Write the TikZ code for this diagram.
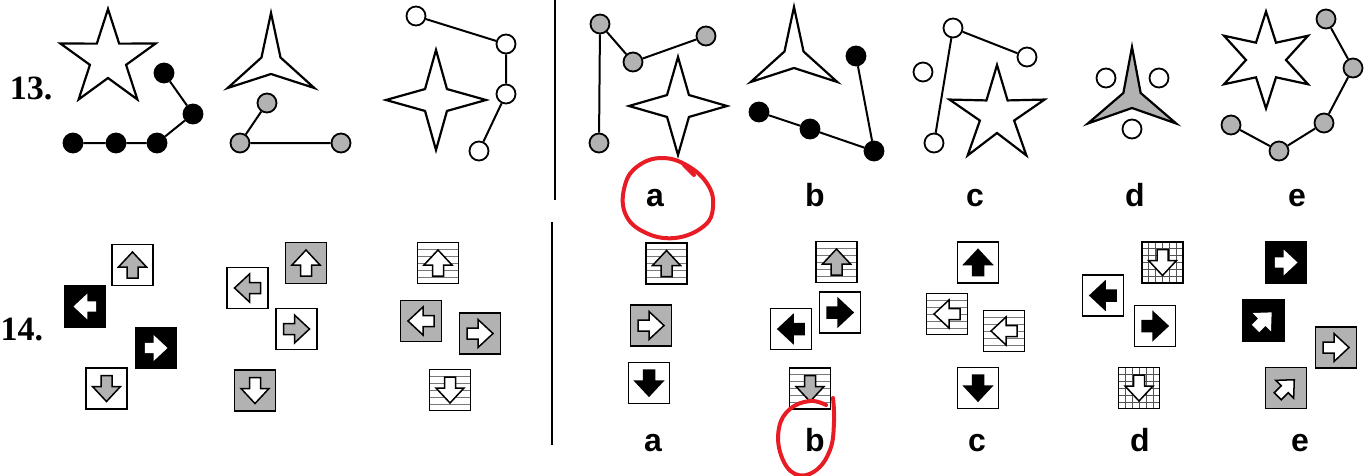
\documentclass[tikz,border=0pt]{standalone}
\usepackage{fontspec}
\setmainfont{Liberation Serif}
\newfontfamily\lettfont{Liberation Sans}
\usetikzlibrary{positioning}
\definecolor{qgray}{RGB}{178,178,178}
\definecolor{qhatch}{RGB}{120,120,120}
\definecolor{qred}{RGB}{232,28,36}

% star with #4 points at (#2,#3), outer radius #5, inner radius #6
\newcommand{\starfig}[6][white]{%
  \pgfmathtruncatemacro\nn{2*#4-1}%
  \filldraw[starline, fill=#1, shift={(#2,#3)}]
    plot[samples at={0,...,\nn}] ({-90+180*\x/#4}:{ifthenelse(mod(\x,2)==0,#5,#6)}) -- cycle;}

\begin{document}
\begin{tikzpicture}[x=1pt, y=-1pt,
  num/.style={font=\fontsize{34}{34}\selectfont\bfseries, inner sep=0pt},
  lett/.style={font=\lettfont\fontsize{32}{32}\selectfont\bfseries, anchor=base, inner sep=0pt},
  starline/.style={draw=black, line width=2.2pt, line join=miter},
  link/.style={line width=2pt},
  dot/.style={circle, draw, line width=1.8pt, minimum size=19pt, inner sep=0pt},
  kdot/.style={dot, fill=black},
  gdot/.style={dot, fill=qgray},
  wdot/.style={dot, fill=white},
  box/.style={draw, line width=1.8pt, minimum size=41pt, inner sep=0pt, fill=white},
  gbox/.style={box, fill=qgray},
  kbox/.style={box, fill=black},
  hbox/.style={box, path picture={\foreach \d in {-14,-7,...,14}
      \draw[qhatch, line width=1pt] ([yshift=\d]path picture bounding box.west)
        -- ([yshift=\d]path picture bounding box.east);}},
  gridbox/.style={box, path picture={\foreach \d in {-14,-7,...,14} {
      \draw[qhatch!70!black, line width=1pt] ([yshift=\d]path picture bounding box.west)
        -- ([yshift=\d]path picture bounding box.east);
      \draw[qhatch!70!black, line width=1pt] ([xshift=\d]path picture bounding box.north)
        -- ([xshift=\d]path picture bounding box.south);}}},
  divline/.style={line width=2.5pt},
  ring/.style={qred, line width=4pt, line cap=round, line join=round},
  pics/barr/.style={code={\filldraw[line width=1.5pt, line join=miter]
      (13,0) -- (-2,14) -- (-2,5.5) -- (-13,5.5) -- (-13,-5.5) -- (-2,-5.5) -- (-2,-14) -- cycle;}}]
\useasboundingbox (0,0) rectangle (1372,476);

\node[num] (q13) at (31,88) {13.};
\node[num] (q14) at (22,330) {14.};
\draw[divline] (555,0) -- (555,200);
\draw[divline] (552,222) -- (552,445);

\foreach \l/\x in {a/655, b/815, c/975, d/1135, e/1297}
  \node[lett] (top\l) at (\x,206) {\l};
\foreach \l/\x in {a/653, b/815, c/977, d/1140, e/1300}
  \node[lett] (bot\l) at (\x,451) {\l};

% row 13, question
\starfig{108}{59}{5}{50}{19}
\node[kdot] (k1) at (73,143) {};
\node[kdot] (k2) at (116,143) {};
\node[kdot] (k3) at (157,143) {};
\node[kdot] (k4) at (193,114) {};
\node[kdot] (k5) at (164,73) {};
\draw[link] (k1) -- (k2) -- (k3) -- (k4) -- (k5);

\starfig{271}{63}{3}{50}{11}
\node[gdot] (g1) at (267,103) {};
\node[gdot] (g2) at (240,143) {};
\node[gdot] (g3) at (341,143) {};
\draw[link] (g1) -- (g2) -- (g3);

\starfig{436}{100}{4}{50}{15.5}
\node[wdot] (w1) at (416,16) {};
\node[wdot] (w2) at (506,44) {};
\node[wdot] (w3) at (506,94) {};
\node[wdot] (w4) at (479,151) {};
\draw[link] (w1) -- (w2) -- (w3) -- (w4);

% row 13, answers
\starfig{678}{106}{4}{49}{15.5}
\node[gdot] (ga1) at (600,24) {};
\node[gdot] (ga2) at (633,62) {};
\node[gdot] (ga3) at (706,36) {};
\node[gdot] (ga4) at (599,143) {};
\draw[link] (ga4) -- (ga1) -- (ga2) -- (ga3);

\starfig{794}{57}{3}{50}{11}
\node[kdot] (kb1) at (856,56) {};
\node[kdot] (kb2) at (759,112) {};
\node[kdot] (kb3) at (810,129) {};
\node[kdot] (kb4) at (874,151) {};
\draw[link] (kb2) -- (kb3) -- (kb4) -- (kb1);

\starfig{997}{115}{5}{50}{18}
\node[wdot] (wc1) at (953,28) {};
\node[wdot] (wc2) at (1027,57) {};
\node[wdot] (wc3) at (923,72) {};
\node[wdot] (wc4) at (934,143) {};
\draw[link] (wc4) -- (wc1) -- (wc2);

\starfig[qgray]{1132}{98}{3}{51}{10}
\node[wdot] (wd1) at (1106,78) {};
\node[wdot] (wd2) at (1159,78) {};
\node[wdot] (wd3) at (1132,129) {};

\starfig{1266}{60}{6}{48.5}{20}
\node[gdot] (ge1) at (1326,19) {};
\node[gdot] (ge2) at (1353,68) {};
\node[gdot] (ge3) at (1324,123) {};
\node[gdot] (ge4) at (1279,151) {};
\node[gdot] (ge5) at (1231,125) {};
\draw[link] (ge1) -- (ge2) -- (ge3) -- (ge4) -- (ge5);

% row 14, question
\node[box] (f1u) at (132.5,265) {};
\pic[rotate=90, fill=qgray] at (f1u) {barr};
\node[kbox] (f1l) at (85,306.5) {};
\pic[rotate=180, scale=0.8, fill=white, draw=white] at (f1l) {barr};
\node[kbox] (f1r) at (156,348) {};
\pic[scale=0.8, fill=white, draw=white] at (f1r) {barr};
\node[box] (f1d) at (106.5,388.5) {};
\pic[rotate=-90, fill=qgray] at (f1d) {barr};

\node[box] (f2l) at (247.5,288) {};
\pic[rotate=180, fill=qgray] at (f2l) {barr};
\node[gbox] (f2u) at (306,263) {};
\pic[rotate=90, fill=white] at (f2u) {barr};
\node[box] (f2r) at (296.5,329) {};
\pic[fill=qgray] at (f2r) {barr};
\node[gbox] (f2d) at (255,390.5) {};
\pic[rotate=-90, fill=white] at (f2d) {barr};

\node[hbox] (f3u) at (438,263) {};
\pic[rotate=90, fill=white] at (f3u) {barr};
\node[gbox] (f3l) at (421,321) {};
\pic[rotate=180, fill=white] at (f3l) {barr};
\node[gbox] (f3r) at (480,333.5) {};
\pic[fill=white] at (f3r) {barr};
\node[hbox] (f3d) at (450,390) {};
\pic[rotate=-90, fill=white] at (f3d) {barr};

% row 14, answers
\node[hbox] (au) at (666.5,263.5) {};
\pic[rotate=90, fill=qgray] at (au) {barr};
\node[gbox] (ar) at (651,325.5) {};
\pic[fill=white] at (ar) {barr};
\node[box] (ad) at (649,383) {};
\pic[rotate=-90, fill=black] at (ad) {barr};

\node[hbox] (bu) at (836.5,262) {};
\pic[rotate=90, fill=qgray] at (bu) {barr};
\node[box] (br) at (840,312.5) {};
\pic[fill=black] at (br) {barr};
\node[box] (bl) at (791,329) {};
\pic[rotate=180, fill=black] at (bl) {barr};
\node[hbox] (bd) at (810,388.5) {};
\pic[rotate=-90, fill=qgray] at (bd) {barr};

\node[box] (cu) at (978,262.5) {};
\pic[rotate=90, fill=black] at (cu) {barr};
\node[hbox] (cl1) at (947,314) {};
\pic[rotate=180, fill=white] at (cl1) {barr};
\node[hbox] (cl2) at (1004,331) {};
\pic[rotate=180, fill=white] at (cl2) {barr};
\node[box] (cd) at (978,388) {};
\pic[rotate=-90, fill=black] at (cd) {barr};

\node[box] (dl) at (1103,295.5) {};
\pic[rotate=180, fill=black] at (dl) {barr};
\node[gridbox] (dd1) at (1162.5,262.5) {};
\pic[rotate=-90, fill=white] at (dd1) {barr};
\node[box] (dr) at (1155,326) {};
\pic[fill=black] at (dr) {barr};
\node[gridbox] (dd2) at (1139,388) {};
\pic[rotate=-90, fill=white] at (dd2) {barr};

\node[kbox] (er1) at (1286,262.5) {};
\pic[scale=0.8, fill=white, draw=white] at (er1) {barr};
\node[kbox] (eg1) at (1263.5,320.5) {};
\pic[rotate=45, scale=0.8, fill=white, draw=white] at (eg1) {barr};
\node[gbox] (er2) at (1336,347.5) {};
\pic[fill=white] at (er2) {barr};
\node[gbox] (eg2) at (1286,388) {};
\pic[rotate=45, scale=0.9, fill=white] at (eg2) {barr};

% marks round the answers
\draw[ring] plot[smooth cycle, tension=0.7] coordinates {(662,158) (688,166) (708,185)
  (713,207) (704,226) (675,238) (644,232) (625,213) (625,185) (638,166)};
\draw[ring] (684,165) -- (694,175);
\draw[ring] plot[smooth, tension=0.7] coordinates {(833,398) (834,422) (830,450)
  (815,471) (795,474) (781,455) (779,428) (790,409) (810,401) (826,405)};
\end{tikzpicture}
\end{document}
